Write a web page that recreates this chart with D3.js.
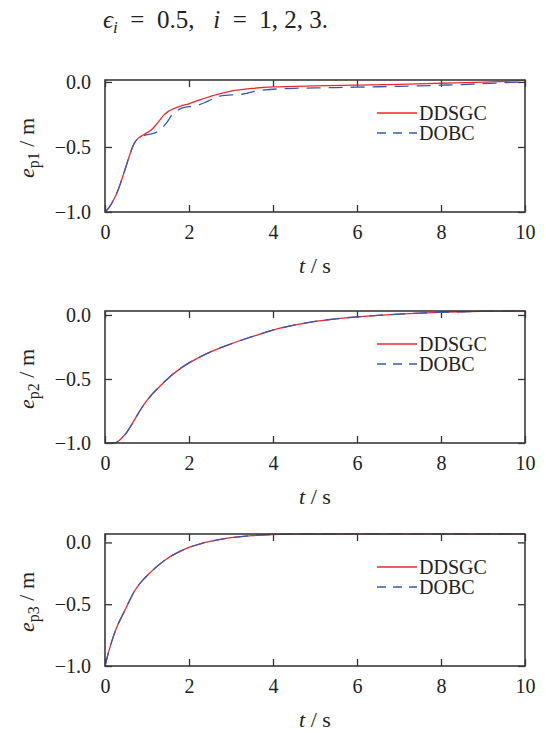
<!DOCTYPE html>
<html>
<head>
<meta charset="utf-8">
<script src="https://cdn.jsdelivr.net/npm/d3@7"></script>
<style>
  html, body { margin: 0; padding: 0; background: #fff; }
  svg { display: block; }
  svg text { font-family: "Liberation Serif", "Tinos", "Times New Roman", "DejaVu Serif", serif; fill: #222; }
</style>
</head>
<body>
<svg id="chart" width="546" height="733"></svg>
<script>
// ---------- data ----------
const xTicks = [0, 2, 4, 6, 8, 10];
const yTicks = [-1.0, -0.5, 0.0];
const seriesNames = ["DDSGC", "DOBC"];
const panelLabels = ["p1", "p2", "p3"];
const yMaxes = [0.015, 0.031, 0.068];

// panel 1
const t1a = [0, 0.1, 0.2, 0.3, 0.4, 0.5, 0.6, 0.7, 0.8, 0.9, 1.0, 1.1, 1.2, 1.3, 1.4, 1.5, 1.6, 1.8, 2.0, 2.25, 2.5, 2.75, 3.0, 3.5, 4.0, 5.0, 6.0, 7.0, 8.0, 9.0, 10];
const ddsgc1 = [-1.0, -0.965, -0.91, -0.84, -0.75, -0.65, -0.55, -0.47, -0.43, -0.41, -0.39, -0.37, -0.335, -0.295, -0.255, -0.228, -0.21, -0.185, -0.168, -0.138, -0.112, -0.09, -0.07, -0.05, -0.038, -0.03, -0.025, -0.018, -0.01, -0.002, 0.012];
const t1b = [0, 0.1, 0.2, 0.3, 0.4, 0.5, 0.6, 0.7, 0.8, 0.9, 1.0, 1.1, 1.2, 1.3, 1.4, 1.5, 1.6, 1.7, 1.8, 2.0, 2.2, 2.4, 2.6, 2.8, 3.0, 3.2, 3.4, 3.6, 3.8, 4.0, 4.5, 5.0, 5.5, 6.0, 6.5, 7.0, 7.5, 8.0, 8.5, 9.0, 9.5, 10];
const dobc1 = [-1.0, -0.965, -0.91, -0.84, -0.75, -0.65, -0.55, -0.47, -0.43, -0.415, -0.405, -0.40, -0.39, -0.37, -0.34, -0.30, -0.25, -0.225, -0.205, -0.19, -0.18, -0.155, -0.125, -0.105, -0.10, -0.097, -0.085, -0.07, -0.062, -0.056, -0.049, -0.046, -0.043, -0.04, -0.037, -0.034, -0.03, -0.025, -0.02, -0.013, -0.006, 0.0];

// panel 2
const t2 = [0, 0.2, 0.3, 0.4, 0.5, 0.6, 0.7, 0.8, 0.9, 1.0, 1.1, 1.2, 1.4, 1.6, 1.8, 2.0, 2.5, 3.0, 3.5, 4.0, 4.5, 5.0, 5.5, 6.0, 6.5, 7.0, 7.5, 8.0, 8.5, 9.0, 10];
const ddsgc2 = [-1.0, -1.0, -0.99, -0.96, -0.925, -0.875, -0.82, -0.765, -0.713, -0.667, -0.627, -0.592, -0.527, -0.467, -0.417, -0.374, -0.29, -0.225, -0.17, -0.118, -0.08, -0.05, -0.03, -0.015, -0.003, 0.007, 0.015, 0.021, 0.025, 0.028, 0.031];
const dobc2 = [-1.0, -1.0, -0.99, -0.96, -0.925, -0.875, -0.82, -0.765, -0.713, -0.667, -0.627, -0.592, -0.527, -0.467, -0.417, -0.374, -0.29, -0.225, -0.17, -0.118, -0.08, -0.05, -0.03, -0.015, -0.003, 0.007, 0.015, 0.021, 0.025, 0.028, 0.031];

// panel 3
const t3 = [0, 0.1, 0.2, 0.3, 0.4, 0.5, 0.6, 0.7, 0.8, 0.9, 1.0, 1.2, 1.4, 1.6, 1.8, 2.0, 2.25, 2.5, 2.75, 3.0, 3.5, 4.0, 4.5, 5.0, 10];
const ddsgc3 = [-1.0, -0.87, -0.76, -0.67, -0.6, -0.53, -0.46, -0.395, -0.345, -0.305, -0.27, -0.205, -0.15, -0.105, -0.07, -0.04, -0.013, 0.008, 0.025, 0.038, 0.055, 0.064, 0.067, 0.068, 0.068];
const dobc3 = [-1.0, -0.87, -0.76, -0.67, -0.6, -0.53, -0.46, -0.395, -0.345, -0.305, -0.27, -0.205, -0.15, -0.105, -0.07, -0.04, -0.013, 0.008, 0.025, 0.038, 0.055, 0.064, 0.067, 0.068, 0.068];

const panels = [
  { sub: panelLabels[0], ta: t1a, a: ddsgc1, tb: t1b, b: dobc1, ymax: yMaxes[0] },
  { sub: panelLabels[1], ta: t2,  a: ddsgc2, tb: t2,  b: dobc2, ymax: yMaxes[1] },
  { sub: panelLabels[2], ta: t3,  a: ddsgc3, tb: t3,  b: dobc3, ymax: yMaxes[2] }
];

// ---------- layout ----------
const svg = d3.select("#chart");
const FONT = '"Liberation Serif", "Tinos", "Times New Roman", "DejaVu Serif", serif';
const plotLeft = 105, plotRight = 525;
const plotTops = [80, 311, 534];
const plotH = 132;
const red = "#f2262b", blue = "#2f5cb8";
const fmt = d3.format(".1f");
const NB = "\u00A0";

// title
const title = svg.append("text").attr("x", 103).attr("y", 28).attr("font-size", 25).attr("font-family", FONT);
title.append("tspan").attr("font-style", "italic").text("ϵ");
title.append("tspan").attr("font-style", "italic").attr("font-size", 17).attr("dy", 5).text("i");
title.append("tspan").attr("dy", -5).text(NB + NB + "=" + NB + NB + "0.5," + NB + NB + NB);
title.append("tspan").attr("font-style", "italic").text("i");
title.append("tspan").text(NB + NB + "=" + NB + NB + "1," + NB + "2," + NB + "3.");

panels.forEach((p, k) => {
  const top = plotTops[k], bottom = top + plotH;
  const x = d3.scaleLinear().domain([0, 10]).range([plotLeft, plotRight]);
  const y = d3.scaleLinear().domain([-1, p.ymax]).range([bottom, top]);
  const g = svg.append("g").attr("font-family", FONT);

  const cid = "clip" + k;
  svg.append("clipPath").attr("id", cid).append("rect")
    .attr("x", plotLeft).attr("y", top - 1).attr("width", plotRight - plotLeft).attr("height", plotH + 2);

  const tickLen = 7;
  const axB = d3.axisBottom(x).tickValues(xTicks).tickSize(-tickLen).tickPadding(tickLen + 6).tickFormat(d3.format("d"));
  const axT = d3.axisTop(x).tickValues(xTicks).tickSize(-tickLen).tickFormat("");
  const axL = d3.axisLeft(y).tickValues(yTicks).tickSize(-tickLen).tickPadding(tickLen + 7).tickFormat(fmt);
  const axR = d3.axisRight(y).tickValues(yTicks).tickSize(-tickLen).tickFormat("");

  const styleAxis = sel => {
    sel.attr("font-family", FONT);
    sel.select(".domain").remove();
    sel.selectAll(".tick line").attr("stroke", "#333").attr("stroke-width", 1.3);
    sel.selectAll(".tick text").attr("font-family", FONT).attr("font-size", 20).attr("fill", "#222");
  };
  g.append("g").attr("transform", `translate(0,${bottom})`).call(axB).call(styleAxis);
  g.append("g").attr("transform", `translate(0,${top})`).call(axT).call(styleAxis);
  g.append("g").attr("transform", `translate(${plotLeft},0)`).call(axL).call(styleAxis);
  g.append("g").attr("transform", `translate(${plotRight},0)`).call(axR).call(styleAxis);

  const line = d3.line().x(d => x(d[0])).y(d => y(d[1])).curve(d3.curveCatmullRom.alpha(0.5));
  const dA = p.ta.map((t, i) => [t, p.a[i]]);
  const dB = p.tb.map((t, i) => [t, p.b[i]]);
  const lg = g.append("g").attr("clip-path", `url(#${cid})`);
  lg.append("path").datum(dA).attr("d", line).attr("fill", "none").attr("stroke", red).attr("stroke-width", 1.3);
  lg.append("path").datum(dB).attr("d", line).attr("fill", "none").attr("stroke", blue).attr("stroke-width", 1.3)
    .attr("stroke-dasharray", "14,8");

  g.append("rect").attr("x", plotLeft).attr("y", top).attr("width", plotRight - plotLeft).attr("height", plotH)
    .attr("fill", "none").attr("stroke", "#3a3a3a").attr("stroke-width", 1.6);

  // legend
  const lx0 = 377, lx1 = 417, ly = top + 33;
  [[seriesNames[0], red, null], [seriesNames[1], blue, "9,7"]].forEach((s, j) => {
    const yy = ly + j * 20;
    g.append("line").attr("x1", lx0).attr("x2", lx1).attr("y1", yy).attr("y2", yy)
      .attr("stroke", s[1]).attr("stroke-width", 1.3).attr("stroke-dasharray", s[2]);
    g.append("text").attr("x", 419).attr("y", yy + 7).attr("font-size", 20).text(s[0]);
  });

  // x label
  const xl = g.append("text").attr("x", (plotLeft + plotRight) / 2).attr("y", bottom + 61)
    .attr("text-anchor", "middle").attr("font-size", 22);
  xl.append("tspan").attr("font-style", "italic").text("t");
  xl.append("tspan").text(" / s");

  // y label
  const yl = g.append("text").attr("transform", `translate(34,${(top + bottom) / 2 + 2}) rotate(-90)`)
    .attr("text-anchor", "middle").attr("font-size", 22);
  yl.append("tspan").attr("font-style", "italic").text("e");
  yl.append("tspan").attr("font-size", 16).attr("dy", 5).text(p.sub);
  yl.append("tspan").attr("dy", -5).text(" / m");
});
</script>
</body>
</html>
